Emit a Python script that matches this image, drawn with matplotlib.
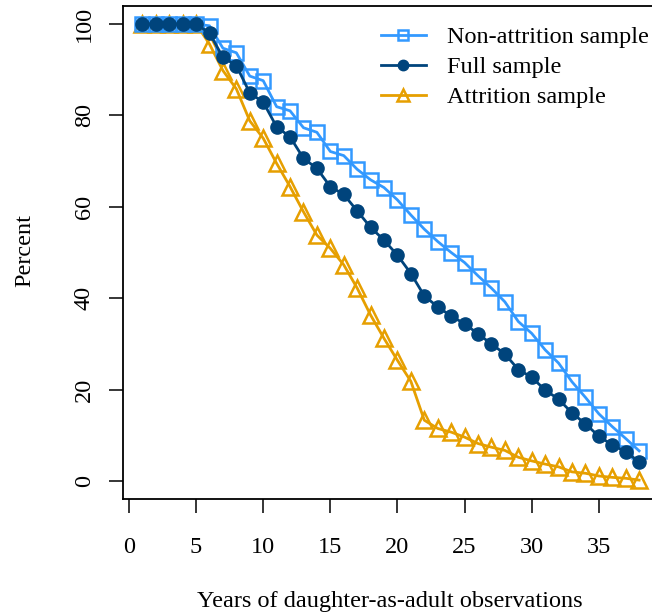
import numpy as np
import matplotlib
matplotlib.use("Agg")
import matplotlib.pyplot as plt

plt.rcParams['font.family'] = ['Liberation Serif', 'DejaVu Serif']

#### data
years = list(range(1, 39))

non_attrition = [100, 100, 100, 100, 100, 99.6, 94.7, 93.7, 88.6, 87.6,
                 81.9, 81.0, 77.3, 76.3, 72.1, 71.2, 68.2, 65.9, 64.2, 61.5,
                 58.2, 55.1, 52.4, 50.0, 47.8, 44.9, 42.2, 39.2, 34.9, 32.3,
                 28.7, 25.8, 21.7, 18.3, 14.7, 11.9, 9.3, 6.6]

full = [100, 100, 100, 100, 100, 98.0, 92.7, 90.9, 84.9, 82.9,
        77.5, 75.3, 70.6, 68.4, 64.4, 62.7, 59.1, 55.5, 52.7, 49.4,
        45.4, 40.5, 38.1, 36.1, 34.4, 32.2, 30.0, 27.8, 24.4, 22.7,
        19.9, 17.9, 14.9, 12.5, 9.8, 7.9, 6.4, 4.2]

attrition = [100, 100, 100, 100, 100, 95.6, 89.8, 85.8, 78.8, 75.0,
             69.5, 64.4, 58.9, 53.8, 50.9, 47.3, 42.2, 36.3, 31.2, 26.4,
             21.8, 13.3, 11.5, 10.7, 9.6, 8.2, 7.4, 6.7, 5.2, 4.4,
             3.7, 3.1, 2.0, 1.7, 1.1, 0.8, 0.6, 0.2]

labels = ['Non-attrition sample', 'Full sample', 'Attrition sample']
xticks = [0, 5, 10, 15, 20, 25, 30, 35]
yticks = [0, 20, 40, 60, 80, 100]

c_light = '#3399FF'
c_dark = '#00447C'
c_orange = '#E69F00'

fig = plt.figure(figsize=(6.52, 6.16), dpi=100)
# right side of the box falls outside the picture, as in the original
ax = fig.add_axes([122.5 / 652, (616 - 499.3) / 616, (659 - 122.5) / 652, (499.3 - 5.7) / 616])

# R-like 4% padding
xmin, xmax = min(years), max(years)
pad = 0.04 * (xmax - xmin)
ax.set_xlim(xmin - pad, xmax + pad)
ax.set_ylim(-4, 104)

lw = 2.0
ax.plot(years, attrition, color=c_orange, lw=lw, marker='^', ms=11,
        mfc='none', mec=c_orange, mew=1.8, zorder=2)
ax.plot(years, non_attrition, color=c_light, lw=lw, marker='s', ms=10.5,
        mfc='none', mec=c_light, mew=1.8, zorder=3)
ax.plot(years, full, color=c_dark, lw=lw, marker='o', ms=9.5,
        mfc=c_dark, mec=c_dark, zorder=4)

ax.set_xticks(xticks)
ax.set_yticks(yticks)
ax.tick_params(axis='both', direction='out', length=10, width=1.1, labelsize=17.5, color='black')
ax.tick_params(axis='x', pad=17)
ax.tick_params(axis='y', pad=10)
for t in ax.get_yticklabels():
    t.set_rotation(90)
    t.set_va('center')
for s in ax.spines.values():
    s.set_linewidth(1.3)

fig.text(390 / 652, 1 - 601 / 616, 'Years of daughter-as-adult observations',
         ha='center', va='center', fontsize=17.5)
fig.text(25 / 652, 1 - 250 / 616, 'Percent', rotation=90, ha='center', va='center', fontsize=17.5)

h1, = ax.plot([], [], color=c_light, lw=lw, marker='s', ms=7, mfc='none', mec=c_light, mew=1.8)
h2, = ax.plot([], [], color=c_dark, lw=lw, marker='o', ms=7.5, mfc=c_dark, mec=c_dark)
h3, = ax.plot([], [], color=c_orange, lw=lw, marker='^', ms=8.5, mfc='none', mec=c_orange, mew=1.8)
fig.legend([h1, h2, h3], labels, loc='upper left', bbox_to_anchor=(381 / 652, 1 - 26 / 616),
           frameon=False, fontsize=17.5, handlelength=1.85, handletextpad=0.85,
           labelspacing=0.33, borderpad=0, borderaxespad=0)

fig.savefig('out.png', dpi=100)
